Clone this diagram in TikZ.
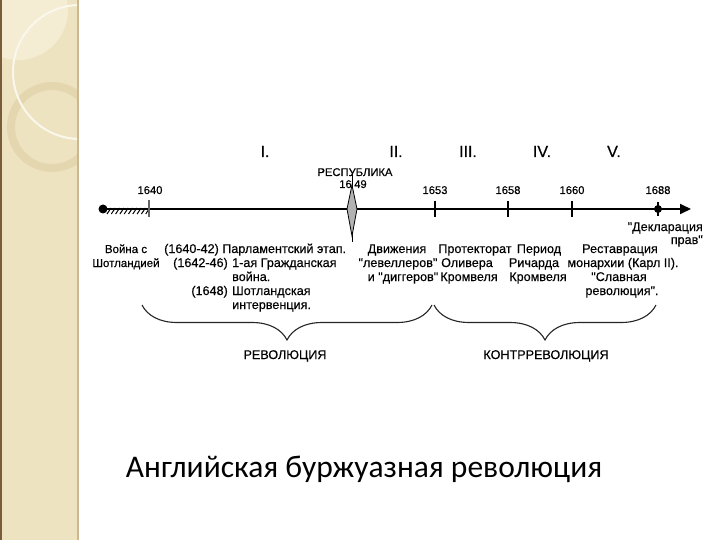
\documentclass[tikz,border=0pt]{standalone}
\usepackage{fontspec}
\setmainfont{Liberation Sans}[Ligatures=TeXOff, FakeBold=0.35]
\newfontfamily\titlefont{Carlito}
\usetikzlibrary{decorations.pathreplacing,arrows.meta}
\definecolor{panel}{HTML}{EEE3C0}
\definecolor{panellight}{HTML}{F4ECD3}
\definecolor{panelring}{HTML}{E4D6AE}
\definecolor{paneledge}{HTML}{CDB78E}
\definecolor{paneldark}{HTML}{7A5C3A}
\begin{document}
\begin{tikzpicture}[x=1pt,y=-1pt,
  lbl/.style={font=\fontsize{12.6}{14}\selectfont, inner sep=0pt, anchor=base},
  lblw/.style={lbl, anchor=base west},
  lble/.style={lbl, anchor=base east},
  yr/.style={font=\fontsize{11.2}{13}\selectfont, inner sep=0pt, anchor=base},
  rom/.style={font=\fontsize{16}{18}\selectfont, inner sep=0pt, anchor=base},
  tickmark/.style={line width=1.5pt, black},
  axisline/.style={line width=1.8pt, black},
  bracestyle/.style={decorate, decoration={brace, mirror, amplitude=35pt, aspect=0.5}, line width=1.1pt, black!85}]
\useasboundingbox (0,0) rectangle (720,540);
\fill[white] (0,0) rectangle (720,540);
% left decorative panel
\fill[panel] (0,0) rectangle (78,540);
\begin{scope}
  \clip (0,0) rectangle (78,540);
  \fill[panellight] (18,10) circle (50);
  \draw[panelring, line width=8pt] (52,127) circle (41);
  \draw[white!70!panel, line width=2pt] (80,72) circle (67);
\end{scope}
\draw[paneledge, line width=2pt] (78,0) -- (78,540);
\draw[paneldark, line width=1.5pt] (0.75,0) -- (0.75,540);

% axis
\node[circle, fill=black, inner sep=0pt, minimum size=9pt] (dot) at (103,209) {};
\coordinate (t1640) at (149,209);
\coordinate (t1649) at (352,209);
\coordinate (t1653) at (435,209);
\coordinate (t1658) at (508,209);
\coordinate (t1660) at (572,209);
\node[circle, fill=black, inner sep=0pt, minimum size=8pt] (m1688) at (658,209) {};
\coordinate (axend) at (691,209);
\draw[axisline, -{Triangle[length=11pt,width=10pt]}] (dot.center) -- (axend);
% hatching
\foreach \i in {0,...,9} {
  \draw[line width=1pt] ({107+4.3*\i},214) -- ++(4,-6);
}
% ticks
\draw[tickmark, black!60] (t1640) ++(0,-9) -- ++(0,17);
\draw[tickmark] (t1653) ++(0,-8) -- ++(0,16);
\draw[tickmark] (t1658) ++(0,-8) -- ++(0,16);
\draw[tickmark, line width=2.4pt] (t1660) ++(0,-8) -- ++(0,16);
\draw[line width=1.3pt] (m1688) ++(0,-7) -- ++(0,14);
% republic diamond
\draw[line width=0.8pt] (352,172) -- (352,242);
\draw[fill=black!30, line width=0.8pt] (352,185) -- (357,209) -- (352,236) -- (347,209) -- cycle;

% year labels
\node[yr] (y1640) at (150,194) {1640};
\node[yr] (y1653) at (435,194) {1653};
\node[yr] (y1658) at (508,194) {1658};
\node[yr] (y1660) at (572,194) {1660};
\node[yr] (y1688) at (658,194) {1688};
\node[yr] (resp) at (355,176) {РЕСПУБЛИКА};
\node[yr] (y1649) at (353,188) {16\hspace{2.5pt}49};

% roman numerals
\node[rom] (r1) at (265,157) {I.};
\node[rom] (r2) at (396,157) {II.};
\node[rom] (r3) at (468,157) {III.};
\node[rom] (r4) at (542,157) {IV.};
\node[rom] (r5) at (614,157) {V.};

% declaration
\node[lble] (decl1) at (703,231) {"Декларация};
\node[lble] (decl2) at (703,244) {прав"};

% lower labels
\node[lbl, font=\fontsize{11.5}{14}\selectfont] (war1) at (126,253) {Война с};
\node[lbl, font=\fontsize{11.5}{14}\selectfont] (war2) at (126,267) {Шотландией};

\node[lblw] (p1) at (164,253) {(1640-42) Парламентский этап.};
\node[lble] (p2d) at (228,267) {(1642-46)};
\node[lblw] (p2) at (232,267) {1-ая Гражданская};
\node[lblw] (p3) at (232,281) {война.};
\node[lble] (p4d) at (228,295) {(1648)};
\node[lblw] (p4) at (232,295) {Шотландская};
\node[lblw] (p5) at (232,309) {интервенция.};

\node[lbl] (d1) at (397,253) {Движения};
\node[lbl] (d2) at (398,267) {"левеллеров"};
\node[lbl] (d3) at (403,281) {и "диггеров"};

\node[lbl] (pr1) at (475,253) {Протекторат};
\node[lbl] (pr2) at (467,267) {Оливера};
\node[lbl] (pr3) at (469,281) {Кромвеля};

\node[lbl] (pe1) at (539,253) {Период};
\node[lbl] (pe2) at (534,267) {Ричарда};
\node[lbl] (pe3) at (538,281) {Кромвеля};

\node[lbl] (re1) at (620,253) {Реставрация};
\node[lbl] (re2) at (623,267) {монархии (Карл II).};
\node[lbl] (re3) at (619,281) {"Славная};
\node[lbl] (re4) at (622,295) {революция".};

% braces
\coordinate (bL1) at (142,305);
\coordinate (bL2) at (432,305);
\coordinate (bR1) at (434,305);
\coordinate (bR2) at (656,305);
\draw[bracestyle] (bL1) -- (bL2);
\draw[bracestyle] (bR1) -- (bR2);
\node[lbl] (rev) at (285,359) {РЕВОЛЮЦИЯ};
\node[lbl] (crev) at (546,359) {КОНТРРЕВОЛЮЦИЯ};

% title
\node[inner sep=0pt, anchor=base, font=\titlefont\fontsize{31.5}{34}\selectfont] (title) at (364,477) {Английская буржуазная революция};
\end{tikzpicture}
\end{document}
